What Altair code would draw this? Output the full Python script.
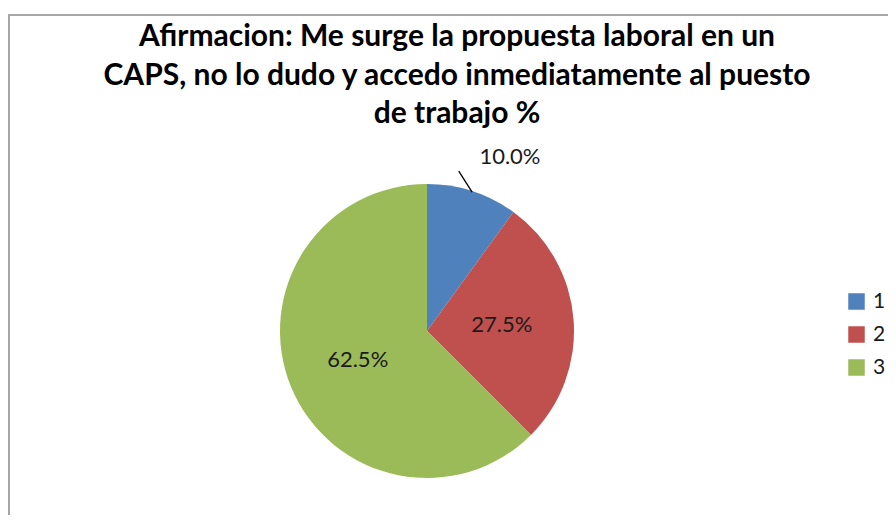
import altair as alt
import pandas as pd

categories = ["1", "2", "3"]
values = [10.0, 27.5, 62.5]
labels = ["10.0%", "27.5%", "62.5%"]
colors = ["#4F81BD", "#C0504D", "#9BBB59"]
title_lines = [
    "Afirmacion: Me surge la propuesta laboral en un",
    "CAPS, no lo dudo y accedo inmediatamente al puesto",
    "de trabajo %",
]

df = pd.DataFrame({"cat": categories, "value": values, "label": labels})

CX, CY, R = 419, 323, 147
FONT = "Lato"

base = alt.Chart(df).transform_joinaggregate(
    total="sum(value)"
).transform_window(
    cum="sum(value)", sort=[alt.SortField("cat")], frame=[None, 0]
).transform_calculate(
    start="(datum.cum - datum.value) / datum.total * 2 * PI",
    end="datum.cum / datum.total * 2 * PI",
).transform_calculate(
    mid="(datum.start + datum.end) / 2"
)

frame_left = alt.Chart(df).mark_rule(color="#a6a6a6", strokeWidth=2).encode(
    x=alt.value(1), y=alt.value(7), y2=alt.value(507)
)
frame_top = alt.Chart(df).mark_rule(color="#a6a6a6", strokeWidth=2).encode(
    x=alt.value(0), x2=alt.value(880), y=alt.value(7)
)

arcs = base.mark_arc(radius=R).encode(
    theta=alt.Theta("start:Q", scale=None),
    theta2="end:Q",
    x=alt.value(CX),
    y=alt.value(CY),
    color=alt.Color(
        "cat:N",
        scale=alt.Scale(domain=categories, range=colors),
        legend=alt.Legend(
            title=None,
            orient="none",
            legendX=838,
            legendY=283,
            symbolType="square",
            symbolSize=272,
            symbolStrokeWidth=0,
            labelFont=FONT,
            labelFontSize=21,
            labelColor="#1a1a1a",
            labelOffset=6,
            rowPadding=11,
        ),
    ),
)

text = base.transform_calculate(
    lt="datum.cat == '1' ? datum.mid + 0.13 : datum.mid",
    lr="datum.cat == '1' ? 193 : 75",
).transform_calculate(
    tx=f"{CX} + datum.lr * sin(datum.lt)",
    ty=f"{CY} - datum.lr * cos(datum.lt)",
).mark_text(font=FONT, fontSize=22, color="#1a1a1a").encode(
    x=alt.X("tx:Q", scale=None),
    y=alt.Y("ty:Q", scale=None),
    text="label:N",
)

leader = base.transform_filter("datum.cat == '1'").transform_calculate(
    x1=f"{CX} + 146 * sin(datum.mid)",
    y1=f"{CY} - 146 * cos(datum.mid)",
    x2=f"{CX} + 163 * sin(datum.mid - 0.118)",
    y2=f"{CY} - 163 * cos(datum.mid - 0.118)",
).mark_rule(color="#000000", strokeWidth=1.3).encode(
    x=alt.X("x1:Q", scale=None),
    y=alt.Y("y1:Q", scale=None),
    x2="x2:Q",
    y2="y2:Q",
)

chart = alt.layer(frame_left, frame_top, arcs, leader, text).properties(
    width=880,
    height=507,
    autosize=alt.AutoSizeParams(type="none"),
    padding=0,
    title=alt.TitleParams(
        text=title_lines,
        font=FONT,
        fontSize=30,
        fontWeight="bold",
        color="#000000",
        anchor="middle",
        frame="group",
        baseline="top",
        offset=0,
        dy=121,
        dx=9,
        lineHeight=38.5,
    ),
).configure_view(stroke=None)

chart.save("out.html", embed_options={"renderer": "svg", "actions": False})
